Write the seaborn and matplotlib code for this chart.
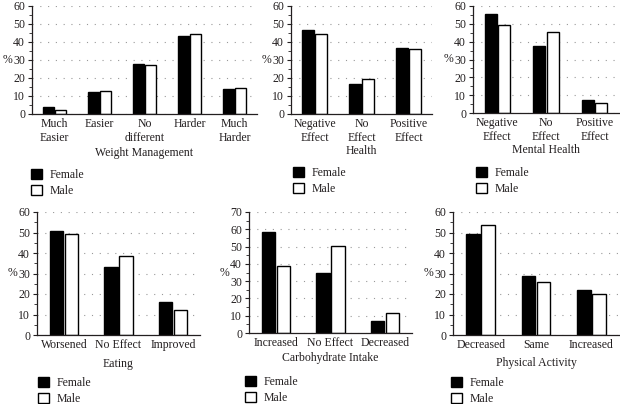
import matplotlib
matplotlib.use("Agg")
import matplotlib.pyplot as plt
from matplotlib.patches import Patch
from matplotlib.ticker import MultipleLocator
import seaborn as sns
import pandas as pd

sns.set_theme(style="white")
plt.rcParams['font.family'] = ['Liberation Serif', 'DejaVu Serif']

series = ["Female", "Male"]

wm_cats = ["Much\nEasier", "Easier", "No\ndifferent", "Harder", "Much\nHarder"]
wm_female = [3.7, 12.3, 27.9, 43.5, 13.9]
wm_male = [2.2, 12.8, 27.2, 44.4, 14.7]

hl_cats = ["Negative\nEffect", "No\nEffect", "Positive\nEffect"]
hl_female = [46.7, 16.8, 36.9]
hl_male = [44.6, 19.4, 36.3]

mh_cats = ["Negative\nEffect", "No\nEffect", "Positive\nEffect"]
mh_female = [55.4, 37.5, 7.2]
mh_male = [49.1, 45.5, 5.8]

eat_cats = ["Worsened", "No Effect", "Improved"]
eat_female = [50.8, 33.3, 16.0]
eat_male = [49.3, 38.6, 12.1]

carb_cats = ["Increased", "No Effect", "Decreased"]
carb_female = [58.5, 34.9, 7.1]
carb_male = [38.6, 50.5, 11.3]

pa_cats = ["Decreased", "Same", "Increased"]
pa_female = [49.2, 28.9, 22.1]
pa_male = [53.9, 26.0, 20.1]

W, H = 620, 404
fig = plt.figure(figsize=(W / 100, H / 100), dpi=100)
TXT = '#231f20'
FS = 8.5


def px_axes(left, right, top, bottom):
    return fig.add_axes([left / W, 1 - bottom / H, (right - left) / W, (bottom - top) / H])


def panel(box, cats, fem, mal, title, ymax, leg_xy, xpad=1):
    ax = px_axes(*box)
    df = pd.DataFrame({
        "cat": cats * 2,
        "val": fem + mal,
        "sex": [series[0]] * len(cats) + [series[1]] * len(cats),
    })
    sns.barplot(data=df, x="cat", y="val", hue="sex", order=cats, hue_order=series,
                palette={"Female": "black", "Male": "white"}, edgecolor="black",
                linewidth=1.0, width=0.55, gap=0.1, ax=ax, legend=False)
    ax.set_xlim(-0.5, len(cats) - 0.5)
    ax.set_ylim(0, ymax)
    ax.yaxis.set_major_locator(MultipleLocator(10))
    ax.yaxis.set_minor_locator(MultipleLocator(5))
    ax.grid(axis='y', which='major', color='#999999', linestyle=(0, (1, 6)), linewidth=0.8)
    ax.set_axisbelow(True)
    for s in ['top', 'right']:
        ax.spines[s].set_visible(False)
    for s in ['left', 'bottom']:
        ax.spines[s].set_color(TXT)
        ax.spines[s].set_linewidth(0.9)
    ax.tick_params(axis='y', which='major', length=3, width=0.8, color=TXT,
                   labelsize=FS, labelcolor=TXT, pad=2, left=True)
    ax.tick_params(axis='y', which='minor', length=2, width=0.6, color=TXT, left=True)
    ax.tick_params(axis='x', length=0, labelsize=FS, labelcolor=TXT, pad=3)
    ax.set_xlabel(title, fontsize=FS, color=TXT, labelpad=xpad)
    ax.set_ylabel("%", fontsize=FS, color=TXT, rotation=0, labelpad=4, va='center')
    handles = [Patch(facecolor='black', edgecolor='black', label='Female'),
               Patch(facecolor='white', edgecolor='black', label='Male')]
    fig.legend(handles=handles, loc='upper left',
               bbox_to_anchor=(leg_xy[0] / W, 1 - leg_xy[1] / H),
               frameon=False, fontsize=FS, handlelength=0.9, handleheight=0.9,
               handletextpad=0.7, labelspacing=0.35, borderaxespad=0, borderpad=0,
               labelcolor=TXT)
    return ax


panel((32, 257, 6, 114), wm_cats, wm_female, wm_male, "Weight Management", 60, (31, 169), 2)
panel((291, 432, 6, 114), hl_cats, hl_female, hl_male, "Health", 60, (293, 167), 1)
panel((473, 619, 6, 113), mh_cats, mh_female, mh_male, "Mental Health", 60, (476, 167), 1)
panel((37, 200, 212, 335), eat_cats, eat_female, eat_male, "Eating", 60, (38, 377), 5)
panel((249, 412, 212, 333), carb_cats, carb_female, carb_male, "Carbohydrate Intake", 70, (245, 376), 2)
panel((453, 619, 212, 335), pa_cats, pa_female, pa_male, "Physical Activity", 60, (451, 377), 4)

fig.savefig("out.png", dpi=100)
